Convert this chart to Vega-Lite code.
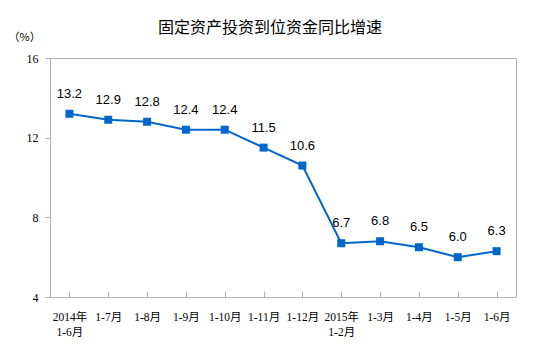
{
  "$schema": "https://vega.github.io/schema/vega-lite/v6.json",
  "autosize": "none",
  "width": 466,
  "height": 239,
  "padding": {"left": 50, "top": 58, "right": 37, "bottom": 65},
  "title": {
    "text": "固定资产投资到位资金同比增速",
    "font": "Noto Sans CJK SC",
    "fontSize": 16,
    "fontWeight": "normal",
    "color": "#000000",
    "anchor": "middle",
    "frame": "group",
    "dx": -13,
    "dy": 25,
    "offset": 20
  },
  "config": {
    "view": {"stroke": "#b0b0b0", "strokeWidth": 1},
    "axis": {"domainColor": "#b0b0b0", "tickColor": "#b0b0b0", "grid": false}
  },
  "data": {
    "values": [
      {"period": "2014年\n1-6月", "value": 13.2},
      {"period": "1-7月", "value": 12.9},
      {"period": "1-8月", "value": 12.8},
      {"period": "1-9月", "value": 12.4},
      {"period": "1-10月", "value": 12.4},
      {"period": "1-11月", "value": 11.5},
      {"period": "1-12月", "value": 10.6},
      {"period": "2015年\n1-2月", "value": 6.7},
      {"period": "1-3月", "value": 6.8},
      {"period": "1-4月", "value": 6.5},
      {"period": "1-5月", "value": 6.0},
      {"period": "1-6月", "value": 6.3}
    ]
  },
  "layer": [
    {
      "mark": {
        "type": "line",
        "color": "#0066CC",
        "strokeWidth": 2,
        "point": {"shape": "square", "filled": true, "size": 64, "color": "#0066CC"}
      },
      "encoding": {
        "x": {
          "field": "period",
          "type": "ordinal",
          "sort": null,
          "scale": {"paddingInner": 0, "paddingOuter": 0},
          "axis": {
            "orient": "bottom",
            "title": null,
            "labelAngle": 0,
            "ticks": false,
            "domain": true,
            "labelExpr": "split(datum.label, '\\n')",
            "labelFont": "Liberation Serif, Noto Sans CJK SC",
            "labelFontSize": 11.5,
            "labelColor": "#000000",
            "labelPadding": 14,
            "labelLineHeight": 15
          }
        },
        "y": {
          "field": "value",
          "type": "quantitative",
          "scale": {"domain": [4, 16]},
          "axis": {
            "values": [4, 8, 12, 16],
            "title": "（%）",
            "titleAngle": 0,
            "titleAlign": "left",
            "titleBaseline": "middle",
            "titleX": -42,
            "titleY": -21,
            "titleFont": "Noto Sans CJK SC",
            "titleFontSize": 11,
            "titleFontWeight": "normal",
            "titleColor": "#000000",
            "labelFont": "Liberation Serif",
            "labelFontSize": 12,
            "labelColor": "#000000",
            "tickSize": 5,
            "labelPadding": 7
          }
        }
      }
    },
    {
      "mark": {
        "type": "text",
        "font": "Liberation Sans",
        "fontSize": 13,
        "dy": -20,
        "color": "#000000"
      },
      "encoding": {
        "x": {
          "field": "period",
          "type": "ordinal",
          "sort": null,
          "axis": {
            "orient": "bottom",
            "title": null,
            "labels": false,
            "domain": false,
            "ticks": true,
            "bandPosition": 0,
            "tickSize": -6
          }
        },
        "y": {"field": "value", "type": "quantitative"},
        "text": {"field": "value", "type": "quantitative", "format": ".1f"}
      }
    }
  ],
  "resolve": {"axis": {"x": "independent"}}
}
